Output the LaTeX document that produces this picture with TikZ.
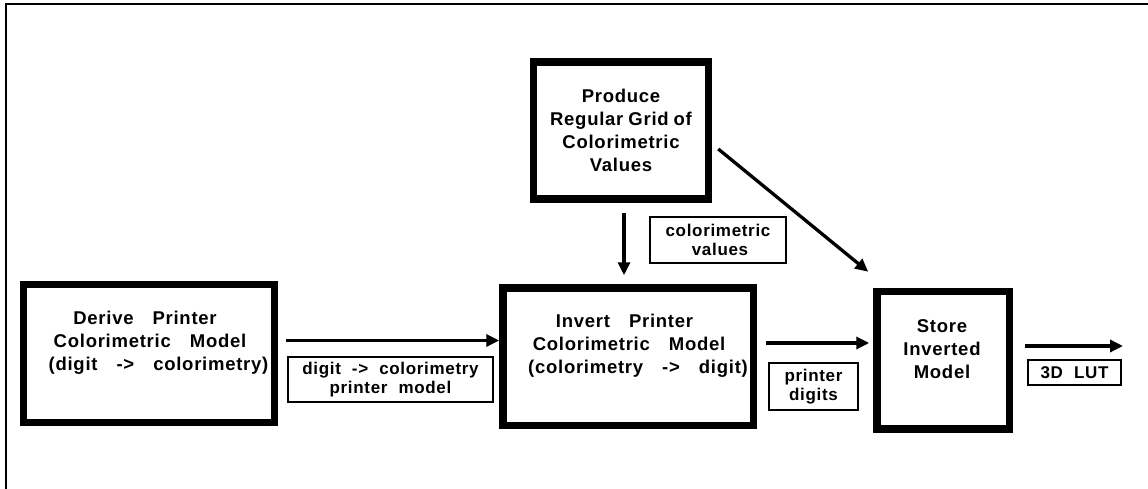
\documentclass[tikz,border=0pt]{standalone}
\usepackage{fontspec}
\setmainfont{Liberation Sans}[LetterSpace=4]
\usetikzlibrary{arrows.meta}
\newcommand\BG{\hspace{19pt}}
\newcommand\SG{\hspace{5pt}}
\newcommand\LG{\hspace{11pt}}
\tikzset{
  box/.style={draw, line width=7.5pt, inner sep=0pt},
  lab/.style={draw, line width=2pt, inner sep=0pt, align=center,
    font=\fontsize{17}{19.5}\selectfont\bfseries},
  txt/.style={align=center, inner sep=0pt, font=\fontsize{18.5}{23}\selectfont\bfseries},
  flow/.style={line width=3.3pt, -{Triangle[length=13pt,width=12pt]}},
  frame/.style={line width=2.5pt}
}
\begin{document}
\begin{tikzpicture}[x=1pt,y=-1pt]
\useasboundingbox (0,0) rectangle (1148,489);
% outer frame (partially visible)
\coordinate (f0) at (6,4);
\coordinate (f1) at (1148,4);
\coordinate (f2) at (6,489);
\draw[frame] (f1) -- (f0) -- (f2);

% process boxes
\node[box, minimum width=251pt, minimum height=138pt] (b1) at (149,353.5) {};
\node[txt] (t1) at (150,343) {Derive\BG Printer\hspace*{10pt}\\Colorimetric\BG Model\\\hspace*{17pt}(digit\BG ->\BG colorimetry)};

\node[box, txt, minimum width=175pt, minimum height=137pt] (b2) at (621,130.5)
  {Produce\\Regular\SG Grid\SG of\\Colorimetric\\Values};

\node[box, minimum width=250.5pt, minimum height=137.5pt] (b3) at (628.25,356.75) {};
\node[txt] (t3) at (629,346) {Invert\BG Printer\hspace*{9pt}\\Colorimetric\BG Model\\\hspace*{18pt}(colorimetry\BG ->\BG digit)};

\node[box, minimum width=132.5pt, minimum height=137.5pt] (b4) at (943.25,360.25) {};
\node[txt] (t4) at (942,349.5) {Store\\Inverted\\Model};

% labels
\node[lab, minimum width=205pt, minimum height=45pt] (l1) at (390.5,379.5)
  {digit\LG ->\LG colorimetry\\printer\LG model};
\node[lab, minimum width=136pt, minimum height=46pt] (l2) at (718,240)
  {colorimetric\\\hspace*{4pt}values};
\node[lab, minimum width=89pt, minimum height=47pt] (l3) at (813.5,386.5)
  {printer\\digits};
\node[lab, minimum width=93pt, minimum height=25pt] (l4) at (1074.5,372.5)
  {3D\LG LUT};

% connectors
\coordinate (out) at (1123,346);
\draw[flow] ([xshift=8pt,yshift=13pt]b1.east) -- ([yshift=16.25pt]b3.west);
\draw[flow] ([xshift=3pt,yshift=-10pt]b2.south) -- ([xshift=-4.25pt,yshift=9pt]b3.north);
\draw[flow] ([xshift=6pt,yshift=-18.5pt]b2.east) -- ([xshift=-5pt,yshift=16pt]b4.north west);
\draw[flow] ([xshift=9pt,yshift=13.75pt]b3.east) -- ([xshift=-4pt,yshift=17.25pt]b4.west);
\draw[flow] ([xshift=12pt,yshift=14.25pt]b4.east) -- (out);
\end{tikzpicture}
\end{document}
